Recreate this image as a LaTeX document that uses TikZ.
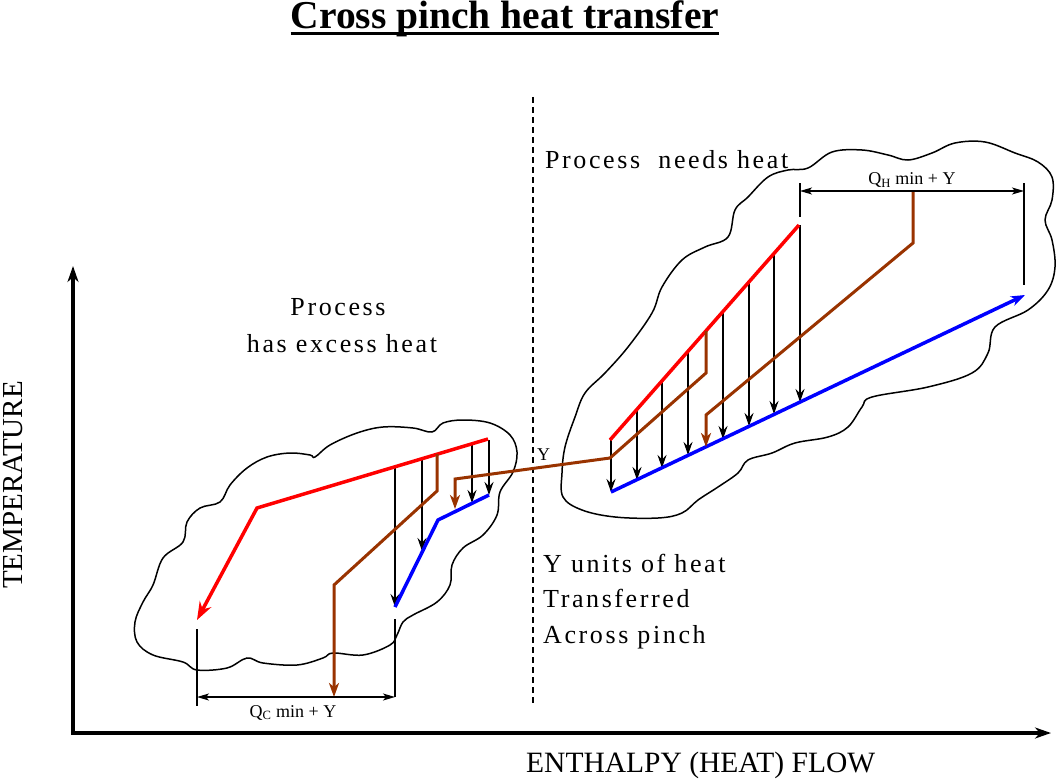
\documentclass[tikz,border=0pt]{standalone}
\usepackage{fontspec}
\setmainfont{Liberation Serif}
\usetikzlibrary{arrows.meta}
\definecolor{hotred}{RGB}{255,0,0}
\definecolor{coldblue}{RGB}{0,0,255}
\definecolor{brownline}{RGB}{153,51,0}
\begin{document}
\begin{tikzpicture}[x=1pt,y=-1pt,
  hotline/.style={draw=hotred,line width=3.5pt},
  coldline/.style={draw=coldblue,line width=3.5pt},
  brownl/.style={draw=brownline,line width=3pt},
  xfer/.style={draw=black,line width=1.2pt,-{Stealth[length=13pt,width=9pt,inset=4.5pt]}},
  extline/.style={draw=black,line width=1.2pt},
  dimline/.style={draw=black,line width=1.2pt,{Stealth[length=12pt,width=7pt,inset=3pt]}-{Stealth[length=12pt,width=7pt,inset=3pt]}},
  cloudline/.style={draw=black,line width=1.5pt},
  axisline/.style={draw=black,line width=3.5pt,{Stealth[length=16pt,width=11pt,inset=5pt]}-{Stealth[length=16pt,width=11pt,inset=5pt]}},
  lbl/.style={inner sep=0pt,anchor=base west},
  bigspaced/.style={font=\fontsize{26}{26}\selectfont\addfontfeature{LetterSpace=10}},
]
\useasboundingbox (0,0) rectangle (1056,778);

% clouds
\draw[cloudline] plot[smooth cycle,tension=0.6] coordinates {
 (315,457) (330,445) (357,433) (383,427) (413,428) (432,432) (443,423) (463,420)
 (490,423) (510,435) (517,452) (513,472) (500,492) (497,515) (483,535) (463,548)
 (452,565) (450,585) (437,602) (413,615) (403,622) (397,635) (390,645) (363,655)
 (333,653) (323,658) (297,665) (263,663) (247,658) (227,668) (197,670) (183,662)
 (153,655) (137,642) (135,622) (143,602) (153,585) (163,558) (183,542) (187,522)
 (200,508) (220,502) (230,485) (247,468) (267,457) (290,453) (310,455)};
\draw[cloudline] plot[smooth cycle,tension=0.6] coordinates {
 (808,168) (832,152) (862,150) (888,155) (908,160) (932,153) (955,143) (985,142)
 (1015,153) (1038,162) (1052,177) (1052,200) (1045,220) (1052,240) (1055,267)
 (1048,290) (1028,310) (995,327) (988,353) (972,373) (928,387) (872,397) (862,407)
 (848,427) (828,437) (795,443) (772,453) (748,460) (738,473) (718,487) (698,500)
 (682,513) (658,518) (615,517) (582,510) (563,497) (562,473) (565,447) (575,417)
 (585,393) (605,373) (628,347) (652,313) (662,287) (682,260) (705,247) (728,237)
 (735,210) (748,197) (768,177) (788,170)};

% axes
\coordinate (O) at (73,733);
\coordinate (Ytip) at (73,266);
\coordinate (Xtip) at (1051,733);
\draw[axisline] (Ytip) -- (O) -- (Xtip);

% pinch line
\coordinate (P1) at (533,97);
\coordinate (P2) at (533,706);
\draw[line width=1.2pt,dash pattern=on 6pt off 4pt] (P1) -- (P2);

% lower-left streams
\coordinate (H1) at (488,439);
\coordinate (H2) at (257,508);
\coordinate (H3) at (197,620);
\coordinate (C1) at (395,607);
\coordinate (C2) at (438,520);
\coordinate (C3) at (489,495);
\foreach \n/\x/\ya/\yb in {1/395/467/607, 2/422/459/551, 3/472/444/503, 4/489/440/495}{
  \coordinate (la\n) at (\x,\ya);
  \coordinate (lb\n) at (\x,\yb);
  \draw[xfer] (la\n) -- (lb\n);
}
\draw[hotline,-{Stealth[length=18pt,width=13pt,inset=6pt]}] (H1) -- (H2) -- (H3);
\draw[coldline] (C1) -- (C2) -- (C3);

% upper-right streams
\coordinate (R1) at (610,440);
\coordinate (R2) at (799,225);
\coordinate (K1) at (611,492);
\coordinate (K2) at (1025,295);
\foreach \n/\x/\ya/\yb in {1/611/440/492, 2/637/409/480, 3/662/381/468, 4/688/352/455,
  5/723/312/439, 6/749/283/426, 7/774/254/414, 8/800/225/402}{
  \coordinate (ra\n) at (\x,\ya);
  \coordinate (rb\n) at (\x,\yb);
  \draw[xfer] (ra\n) -- (rb\n);
}
\draw[hotline] (R1) -- (R2);
\draw[coldline,-{Stealth[length=14pt,width=10pt,inset=4pt]}] (K1) -- (K2);

% brown utility / cross-pinch lines
\coordinate (BL1) at (437,454);
\coordinate (BL2) at (437,491);
\coordinate (BL3) at (334,585);
\coordinate (BL4) at (334,697);
\draw[brownl,-{Stealth[length=14pt,width=10pt,inset=4pt]}] (BL1) -- (BL2) -- (BL3) -- (BL4);
\coordinate (BX1) at (706,331);
\coordinate (BX2) at (706,373);
\coordinate (BX3) at (610,458);
\coordinate (BX4) at (455,479);
\coordinate (BX5) at (455,509);
\draw[brownl,-{Stealth[length=14pt,width=10pt,inset=4pt]}] (BX1) -- (BX2) -- (BX3) -- (BX4) -- (BX5);
\coordinate (BR1) at (913,191);
\coordinate (BR2) at (913,243);
\coordinate (BR3) at (706,415);
\coordinate (BR4) at (706,447);
\draw[brownl,-{Stealth[length=14pt,width=10pt,inset=4pt]}] (BR1) -- (BR2) -- (BR3) -- (BR4);

% dimension lines
\coordinate (EH1a) at (800,183); \coordinate (EH1b) at (800,217);
\coordinate (EH2a) at (1024,183); \coordinate (EH2b) at (1024,285);
\draw[extline] (EH1a) -- (EH1b);
\draw[extline] (EH2a) -- (EH2b);
\coordinate (DH1) at (800,191); \coordinate (DH2) at (1024,191);
\draw[dimline] (DH1) -- (DH2);
\coordinate (EC1a) at (197,629); \coordinate (EC1b) at (197,706);
\coordinate (EC2a) at (395,619); \coordinate (EC2b) at (395,697);
\draw[extline] (EC1a) -- (EC1b);
\draw[extline] (EC2a) -- (EC2b);
\coordinate (DC1) at (197,697); \coordinate (DC2) at (395,697);
\draw[dimline] (DC1) -- (DC2);

% texts
\node[inner sep=0pt,anchor=base,font=\fontsize{39.5}{39.5}\selectfont\bfseries] (title) at (505,29) {Cross pinch heat transfer};
\draw[line width=3pt] ([yshift=-5pt]title.base west) -- ([yshift=-5pt]title.base east);
\node[inner sep=0pt,anchor=base,rotate=90,font=\fontsize{29}{29}\selectfont] (ylab) at (22,485) {TEMPERATURE};
\node[lbl,font=\fontsize{29.5}{29.5}\selectfont] (xlab) at (526,772) {ENTHALPY (HEAT) FLOW};
\node[lbl,bigspaced] (needs) at (545,168) {Process\ \ needs heat};
\node[inner sep=0pt,anchor=base,bigspaced] (has1) at (338,315) {Process};
\node[inner sep=0pt,anchor=base,bigspaced] (has2) at (342,352) {has excess heat};
\node[lbl,bigspaced] (yu1) at (543,572) {Y units of heat};
\node[lbl,bigspaced] (yu2) at (543,607) {Transferred};
\node[lbl,bigspaced] (yu3) at (543,643) {Across pinch};
\node[inner sep=0pt,anchor=base,font=\fontsize{18}{18}\selectfont] (qh) at (912,185) {Q\textsubscript{H} min + Y};
\node[inner sep=0pt,anchor=base,font=\fontsize{18}{18}\selectfont] (qc) at (293,717) {Q\textsubscript{C} min + Y};
\node[lbl,font=\fontsize{18}{18}\selectfont] (ylbl) at (537,460) {Y};
\end{tikzpicture}
\end{document}
